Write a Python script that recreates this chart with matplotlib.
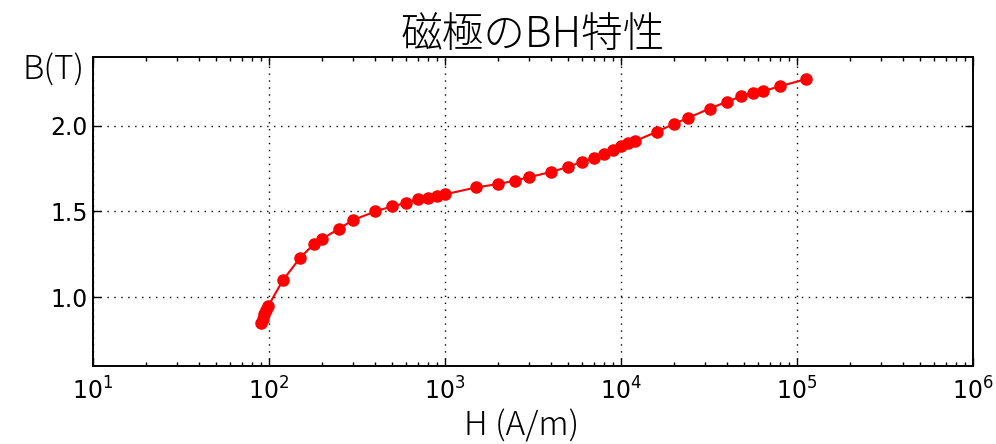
import matplotlib
matplotlib.use("Agg")
import matplotlib.pyplot as plt
from matplotlib.ticker import LogLocator

# 磁界の強さ H (A/m) と磁束密度 B (T)
H = [90, 92, 94, 96, 99, 120, 150, 180, 200, 250, 300, 400, 500, 600, 700,
     800, 900, 1000, 1500, 2000, 2500, 3000, 4000, 5000, 6000, 7000, 8000,
     9000, 10000, 11000, 12000, 16000, 20000, 24000, 32000, 40000, 48000,
     56000, 64000, 80000, 112000]
B = [0.85, 0.875, 0.90, 0.925, 0.95, 1.10, 1.23, 1.31, 1.34, 1.40, 1.45,
     1.50, 1.53, 1.55, 1.57, 1.58, 1.59, 1.60, 1.64, 1.66, 1.68, 1.70, 1.73,
     1.76, 1.79, 1.81, 1.835, 1.86, 1.88, 1.90, 1.91, 1.965, 2.01, 2.045,
     2.10, 2.14, 2.17, 2.19, 2.20, 2.23, 2.27]

title = "磁極のBH特性"
xlabel = "H (A/m)"
ylabel = "B(T)"

cjk = ["Noto Sans CJK JP", "DejaVu Sans"]

fig = plt.figure(figsize=(9.96, 4.44), dpi=100, facecolor="white")
ax = fig.add_axes([0.0934, 0.1757, 0.8835, 0.6959])

ax.plot(H, B, color="red", marker="o", markersize=8, markeredgecolor="red",
        linewidth=1.5)
ax.set_xscale("log")
ax.set_xlim(10, 1e6)
ax.set_ylim(0.6, 2.4)
ax.set_yticks([1.0, 1.5, 2.0])
ax.xaxis.set_minor_locator(LogLocator(base=10, subs=range(2, 10), numticks=20))

ax.grid(True, which="major", color="k", linestyle=(0, (1, 4)), linewidth=1.0)
for sp in ax.spines.values():
    sp.set_linewidth(1.4)
ax.tick_params(which="both", direction="in", top=True, right=True, width=1.0)
ax.tick_params(which="major", length=6, labelsize=17)
ax.tick_params(axis="x", which="major", pad=8)
ax.tick_params(axis="y", which="major", pad=4)
ax.tick_params(which="minor", length=3)

ax.set_title(title, family=cjk, fontsize=30, fontweight="light", pad=4)
ax.set_xlabel(xlabel, family=cjk, fontsize=24, fontweight="light")
ax.xaxis.set_label_coords(0.487, -0.14)
ax.set_ylabel(ylabel, family=cjk, fontsize=24, fontweight="light", rotation=0)
ax.yaxis.set_label_coords(-0.045, 0.9)

fig.savefig("out.png", dpi=100, facecolor="white")
